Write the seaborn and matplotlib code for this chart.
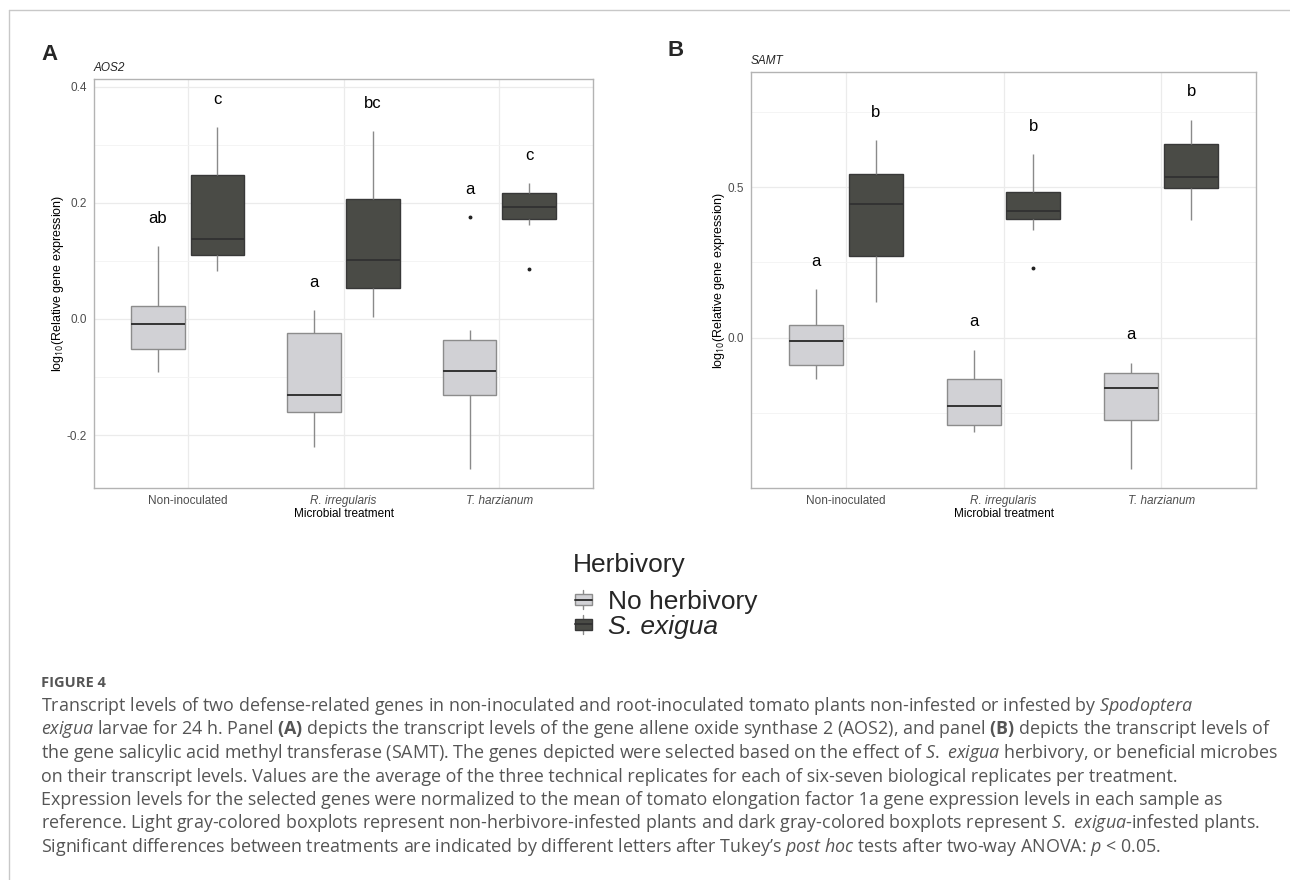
import numpy as np
import pandas as pd
import matplotlib
matplotlib.use("Agg")
import matplotlib.pyplot as plt
import seaborn as sns
from matplotlib.legend_handler import HandlerBase
from matplotlib.patches import Rectangle, Patch
from matplotlib.lines import Line2D
from matplotlib.ticker import FixedLocator

# ---------------- data ----------------
treatments = ["Non-inoculated", "R. irregularis", "T. harzianum"]
herbivory = ["No herbivory", "S. exigua"]

# AOS2 (panel A) - log10 relative expression, per group
aos2_none_noninoc = [-0.092, -0.060, -0.044, -0.009, 0.015, 0.031, 0.126]
aos2_sexi_noninoc = [0.083, 0.104, 0.116, 0.137, 0.220, 0.274, 0.331]
aos2_none_rirr = [-0.221, -0.170, -0.152, -0.131, -0.060, 0.010, 0.016]
aos2_sexi_rirr = [0.004, 0.045, 0.061, 0.101, 0.170, 0.242, 0.324]
aos2_none_tharz = [-0.259, -0.150, -0.112, -0.090, -0.053, -0.019, 0.176]
aos2_sexi_tharz = [0.086, 0.162, 0.182, 0.193, 0.205, 0.229, 0.234]

# SAMT (panel B)
samt_none_noninoc = [-0.137, -0.100, -0.082, -0.010, 0.030, 0.058, 0.162]
samt_sexi_noninoc = [0.120, 0.250, 0.290, 0.444, 0.510, 0.574, 0.656]
samt_none_rirr = [-0.312, -0.295, -0.279, -0.225, -0.160, -0.112, -0.039]
samt_sexi_rirr = [0.233, 0.358, 0.407, 0.415, 0.427, 0.470, 0.530, 0.608]
samt_none_tharz = [-0.434, -0.290, -0.254, -0.166, -0.130, -0.104, -0.082]
samt_sexi_tharz = [0.390, 0.490, 0.502, 0.532, 0.610, 0.674, 0.722]

# significance letters (text, y position) in order: light/dark per treatment
aos2_letters = ["ab", "c", "a", "bc", "a", "c"]
aos2_letter_y = [0.173, 0.378, 0.063, 0.371, 0.222, 0.281]
samt_letters = ["a", "b", "a", "b", "a", "b"]
samt_letter_y = [0.253, 0.746, 0.054, 0.700, 0.010, 0.815]

aos2_ticks = [-0.2, 0.0, 0.2, 0.4]
aos2_tick_labels = ["-0.2", "0.0", "0.2", "0.4"]
aos2_minor = [-0.1, 0.1, 0.3]
samt_ticks = [0.0, 0.5]
samt_tick_labels = ["0.0", "0.5"]
samt_minor = [-0.25, 0.25, 0.75]

caption_title = "FIGURE 4"
caption_lines = [
    r"Transcript levels of two defense-related genes in non-inoculated and root-inoculated tomato plants non-infested or infested by $\mathit{Spodoptera}$",
    r"$\mathit{exigua}$ larvae for 24 h. Panel $\mathbf{(A)}$ depicts the transcript levels of the gene allene oxide synthase 2 (AOS2), and panel $\mathbf{(B)}$ depicts the transcript levels of",
    r"the gene salicylic acid methyl transferase (SAMT). The genes depicted were selected based on the effect of $\mathit{S.\ exigua}$ herbivory, or beneficial microbes",
    r"on their transcript levels. Values are the average of the three technical replicates for each of six-seven biological replicates per treatment.",
    r"Expression levels for the selected genes were normalized to the mean of tomato elongation factor 1a gene expression levels in each sample as",
    r"reference. Light gray-colored boxplots represent non-herbivore-infested plants and dark gray-colored boxplots represent $\mathit{S.\ exigua}$-infested plants.",
    r"Significant differences between treatments are indicated by different letters after Tukey’s $\mathit{post\ hoc}$ tests after two-way ANOVA: $\mathit{p}$ < 0.05.",
]


def make_df(groups):
    rows = []
    for (t, h), vals in groups.items():
        for v in vals:
            rows.append({"treatment": t, "herbivory": h, "value": v})
    return pd.DataFrame(rows)


df_a = make_df({
    (treatments[0], herbivory[0]): aos2_none_noninoc,
    (treatments[0], herbivory[1]): aos2_sexi_noninoc,
    (treatments[1], herbivory[0]): aos2_none_rirr,
    (treatments[1], herbivory[1]): aos2_sexi_rirr,
    (treatments[2], herbivory[0]): aos2_none_tharz,
    (treatments[2], herbivory[1]): aos2_sexi_tharz,
})
df_b = make_df({
    (treatments[0], herbivory[0]): samt_none_noninoc,
    (treatments[0], herbivory[1]): samt_sexi_noninoc,
    (treatments[1], herbivory[0]): samt_none_rirr,
    (treatments[1], herbivory[1]): samt_sexi_rirr,
    (treatments[2], herbivory[0]): samt_none_tharz,
    (treatments[2], herbivory[1]): samt_sexi_tharz,
})

# ---------------- style ----------------
sns.set_style("white")
plt.rcParams["font.family"] = ["Liberation Sans", "DejaVu Sans"]
plt.rcParams["mathtext.fontset"] = "custom"
plt.rcParams["mathtext.rm"] = "Open Sans"
plt.rcParams["mathtext.it"] = "Open Sans:italic"
plt.rcParams["mathtext.bf"] = "Open Sans:bold"

LIGHT = "#D1D1D5"
DARK = "#4A4B46"
palette = {herbivory[0]: LIGHT, herbivory[1]: DARK}
W, H = 1290, 880

fig = plt.figure(figsize=(W / 100, H / 100), dpi=100)


def px_axes(left, top, right, bottom):
    return fig.add_axes([left / W, 1 - bottom / H, (right - left) / W, (bottom - top) / H])


ax_a = px_axes(94, 79, 593, 488)
ax_b = px_axes(751, 72, 1256, 488)


def draw_panel(ax, df, ylim, ticks, tick_labels, minor, letters, letter_y, gene, tag, tagpos, genepos):
    ax.set_axisbelow(True)
    sns.boxplot(
        data=df, x="treatment", y="value", hue="herbivory",
        order=treatments, hue_order=herbivory, palette=palette,
        width=0.76, gap=0.1, linewidth=1.0, linecolor="#3a3a3a",
        saturation=1, showcaps=False, fliersize=1.8,
        flierprops=dict(marker="o", markerfacecolor="#222222", markeredgecolor="#222222"),
        whiskerprops=dict(color="#8a8a8a", linewidth=1.0),
        medianprops=dict(color="#333333", linewidth=1.4),
        legend=False, ax=ax,
    )
    for p in ax.patches:
        fc = p.get_facecolor()
        p.set_edgecolor("#8c8c8c" if fc[0] > 0.5 else "#383838")
    ax.set_xlim(-0.6, 2.6)
    ax.set_ylim(*ylim)
    ax.yaxis.set_major_locator(FixedLocator(ticks))
    ax.set_yticklabels(tick_labels)
    ax.yaxis.set_minor_locator(FixedLocator(minor))
    ax.grid(which="major", color="#EBEBEB", linewidth=0.9)
    ax.grid(which="minor", axis="y", color="#F3F3F3", linewidth=0.6)
    for s in ax.spines.values():
        s.set_color("#B3B3B3")
        s.set_linewidth(1.0)
        s.set_visible(True)
    ax.tick_params(which="major", length=3, width=0.8, color="#B3B3B3",
                   labelcolor="#4D4D4D", labelsize=8.5, pad=2)
    ax.tick_params(which="minor", length=0)
    for lab in ax.get_xticklabels():
        if lab.get_text() != "Non-inoculated":
            lab.set_fontstyle("italic")
    ax.set_xlabel("Microbial treatment", fontsize=8.5, color="black", labelpad=1)
    ax.set_ylabel(r"log$_{10}$(Relative gene expression)", fontsize=9, color="black", labelpad=0.5)
    offs = [-0.19, 0.19]
    for i, (lt, ly) in enumerate(zip(letters, letter_y)):
        x = i // 2 + offs[i % 2]
        ax.text(x, ly, lt, ha="center", va="center", fontsize=12, color="black")
    fig.text(genepos[0] / W, 1 - genepos[1] / H, gene, fontsize=8.5, fontstyle="italic",
             ha="left", va="center")
    fig.text(tagpos[0] / W, 1 - tagpos[1] / H, tag, fontsize=16, fontweight="bold",
             ha="center", va="center")


draw_panel(ax_a, df_a, (-0.291, 0.413), aos2_ticks, aos2_tick_labels, aos2_minor,
           aos2_letters, aos2_letter_y, "AOS2", "A", (50, 55), (94, 68))
draw_panel(ax_b, df_b, (-0.497, 0.881), samt_ticks, samt_tick_labels, samt_minor,
           samt_letters, samt_letter_y, "SAMT", "B", (676, 50), (751, 61))


# ---------------- legend ----------------
class BoxKey(HandlerBase):
    def create_artists(self, legend, orig_handle, xdescent, ydescent, width, height, fontsize, trans):
        fc = orig_handle.get_facecolor()
        ec = orig_handle.get_edgecolor()
        cx = -xdescent + width / 2
        bw = width * 0.9
        y0 = -ydescent
        wc = "#8a8a8a"
        wb = Line2D([cx, cx], [y0 - height * 0.1, y0 + height * 0.15], color=wc, lw=1.0, transform=trans)
        wt = Line2D([cx, cx], [y0 + height * 0.85, y0 + height * 1.1], color=wc, lw=1.0, transform=trans)
        rect = Rectangle((cx - bw / 2, y0 + height * 0.15), bw, height * 0.7,
                         facecolor=fc, edgecolor=ec, lw=1.0, transform=trans)
        med = Line2D([cx - bw / 2, cx + bw / 2], [y0 + height * 0.5] * 2, color="#333333", lw=1.4,
                     transform=trans)
        return [wb, wt, rect, med]


fig.text(573 / W, 1 - 572 / H, "Herbivory", fontsize=19, ha="left", va="baseline")
handles = [Patch(facecolor=LIGHT, edgecolor="#8c8c8c"), Patch(facecolor=DARK, edgecolor="#383838")]
leg = fig.legend(handles, herbivory, loc="upper left",
                 bbox_to_anchor=(574 / W, 1 - 590 / H), frameon=False,
                 handler_map={Patch: BoxKey()}, handlelength=0.7, handleheight=0.55,
                 handletextpad=0.6, labelspacing=0.03, borderpad=0, borderaxespad=0,
                 fontsize=19)
leg.get_texts()[1].set_fontstyle("italic")

# ---------------- caption ----------------
cap_color = "#555555"
fig.text(41 / W, 1 - 683 / H, caption_title, fontsize=10.5, fontweight="bold", color=cap_color,
         family="Open Sans", ha="left", va="center")
line_y = [706, 729, 753, 777, 800, 823, 847]
for ly, line in zip(line_y, caption_lines):
    fig.text(41 / W, 1 - ly / H, line, fontsize=12.9, color=cap_color, family="Open Sans",
             ha="left", va="center")

# frame lines
fig.add_artist(Line2D([9 / W, 1], [1 - 10 / H, 1 - 10 / H], color="#C8C8C8", lw=1.0))
fig.add_artist(Line2D([9 / W, 9 / W], [0, 1 - 10 / H], color="#C8C8C8", lw=1.0))

fig.savefig("out.png", dpi=100)
